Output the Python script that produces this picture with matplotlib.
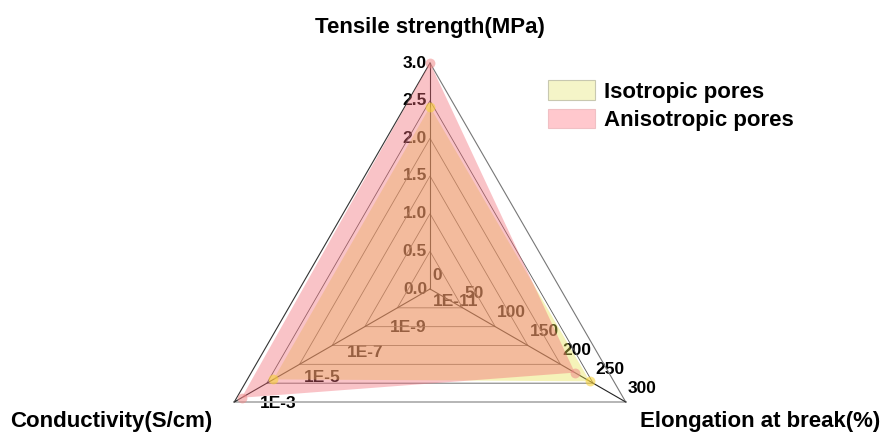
import numpy as np
import matplotlib
matplotlib.use("Agg")
import matplotlib.pyplot as plt
from matplotlib.patches import Polygon, Patch

plt.rcParams["font.family"] = ["Liberation Sans", "DejaVu Sans"]
plt.rcParams["font.weight"] = "bold"

# ---- data ----
axis_titles = ["Tensile strength(MPa)", "Conductivity(S/cm)", "Elongation at break(%)"]
series_names = ["Isotropic pores", "Anisotropic pores"]
tensile = [2.42, 3.0]            # MPa
conductivity = [2.5e-5, 5e-4]    # S/cm
elongation = [245, 222]          # %

tensile_ticks = [0.0, 0.5, 1.0, 1.5, 2.0, 2.5, 3.0]
tensile_labels = ["0.0", "0.5", "1.0", "1.5", "2.0", "2.5", "3.0"]
cond_ticks = [1e-11, 1e-9, 1e-7, 1e-5, 1e-3]
cond_labels = ["1E-11", "1E-9", "1E-7", "1E-5", "1E-3"]
elong_ticks = [0, 50, 100, 150, 200, 250, 300]
elong_labels = ["0", "50", "100", "150", "200", "250", "300"]

# ---- scales: each axis maps to radius 0..1 ----
def r_tensile(v):
    return np.asarray(v, float) / 3.0

def r_cond(v):
    return (np.log10(np.asarray(v, float)) + 11.0) / 8.0

def r_elong(v):
    return np.asarray(v, float) / 300.0

angles = np.deg2rad([90.0, 210.0, 330.0])   # tensile, conductivity, elongation
dirs = np.column_stack([np.cos(angles), np.sin(angles)])

def to_xy(radii):
    return np.asarray(radii)[:, None] * dirs

# ---- figure ----
W, H = 888, 437
cx, cy, scale = 430, 289, 226  # centre (px) and radius (px)
fig = plt.figure(figsize=(W / 100, H / 100), dpi=100)
ax = fig.add_axes([0, 0, 1, 1])
ax.set_xlim(-cx / scale, (W - cx) / scale)
ax.set_ylim(-(H - cy) / scale, cy / scale)
ax.axis("off")

# grid triangles
n_rings = 6
for k in range(1, n_rings):
    pts = to_xy([k / n_rings] * 3)
    ax.add_patch(Polygon(pts, closed=True, fill=False, ec="#5a5a5a", lw=0.6, zorder=1))
outer = to_xy([1, 1, 1])
ax.plot([outer[0, 0], outer[1, 0]], [outer[0, 1], outer[1, 1]], color="#333333", lw=0.8, zorder=1)
ax.plot([outer[0, 0], outer[2, 0]], [outer[0, 1], outer[2, 1]], color="#777777", lw=0.8, zorder=1)
ax.plot([outer[1, 0], outer[2, 0]], [outer[1, 1], outer[2, 1]], color="#b5b5b5", lw=1.4, zorder=1)

# radial axes
for d in dirs:
    ax.plot([0, d[0]], [0, d[1]], color="#222222", lw=0.8, zorder=1)

# tick labels (kept underneath the translucent fills)
tick_fs = 12.5
for v, lab in zip(tensile_ticks, tensile_labels):
    p = dirs[0] * r_tensile(v)
    ax.annotate(lab, p, xytext=(-3, 0), textcoords="offset pixels",
                ha="right", va="center", fontsize=tick_fs, color="black", zorder=0.5)
for v, lab in zip(elong_ticks, elong_labels):
    p = dirs[2] * r_elong(v)
    ax.annotate(lab, p, xytext=(2, 14), textcoords="offset pixels",
                ha="left", va="center", fontsize=tick_fs, color="black", zorder=0.5)
for v, lab in zip(cond_ticks, cond_labels):
    f = float(r_cond(v))
    p = dirs[1] * f
    ax.annotate(lab, p, xytext=(3 + 23 * f, -(13 - 12 * f)), textcoords="offset pixels",
                ha="left", va="center", fontsize=tick_fs, color="black", zorder=0.5)

# series polygons
iso_r = [r_tensile(tensile[0]), r_cond(conductivity[0]), r_elong(elongation[0])]
ani_r = [r_tensile(tensile[1]), r_cond(conductivity[1]), r_elong(elongation[1])]
iso_xy = to_xy(iso_r)
ani_xy = to_xy(ani_r)

fill_alpha = 0.4
ax.add_patch(Polygon(iso_xy, closed=True, fc=(230/255, 225/255, 80/255), alpha=fill_alpha, ec="none", zorder=2))
ax.add_patch(Polygon(ani_xy, closed=True, fc=(242/255, 105/255, 117/255), alpha=fill_alpha, ec="none", zorder=3))

ax.scatter(iso_xy[:, 0], iso_xy[:, 1], s=50, color="#f7d23a", alpha=0.6, lw=0, zorder=4)
ax.scatter(ani_xy[:, 0], ani_xy[:, 1], s=50, color="#f08a8a", alpha=0.55, lw=0, zorder=4)

# axis titles
title_fs = 16
ax.annotate(axis_titles[0], dirs[0], xytext=(0, 36), textcoords="offset pixels",
            ha="center", va="center", fontsize=title_fs)
ax.text(10 / scale - cx / scale, -(422 - cy) / scale, axis_titles[1],
        ha="left", va="center", fontsize=title_fs)
ax.text((W - 8 - cx) / scale, -(422 - cy) / scale, axis_titles[2],
        ha="right", va="center", fontsize=title_fs)

# legend
handles = [Patch(fc="#f5f5c8", ec="#c8c8b0", lw=0.8),
           Patch(fc="#ffc8cd", ec="#f0c0c4", lw=0.8)]
ax.legend(handles, series_names, loc="upper left", bbox_to_anchor=(544 / W, 1 - 76 / H),
          frameon=False, fontsize=16, handlelength=2.1, handleheight=1.0,
          handletextpad=0.4, labelspacing=0.25, borderaxespad=0, borderpad=0.2)

fig.savefig("out.png", dpi=100)
